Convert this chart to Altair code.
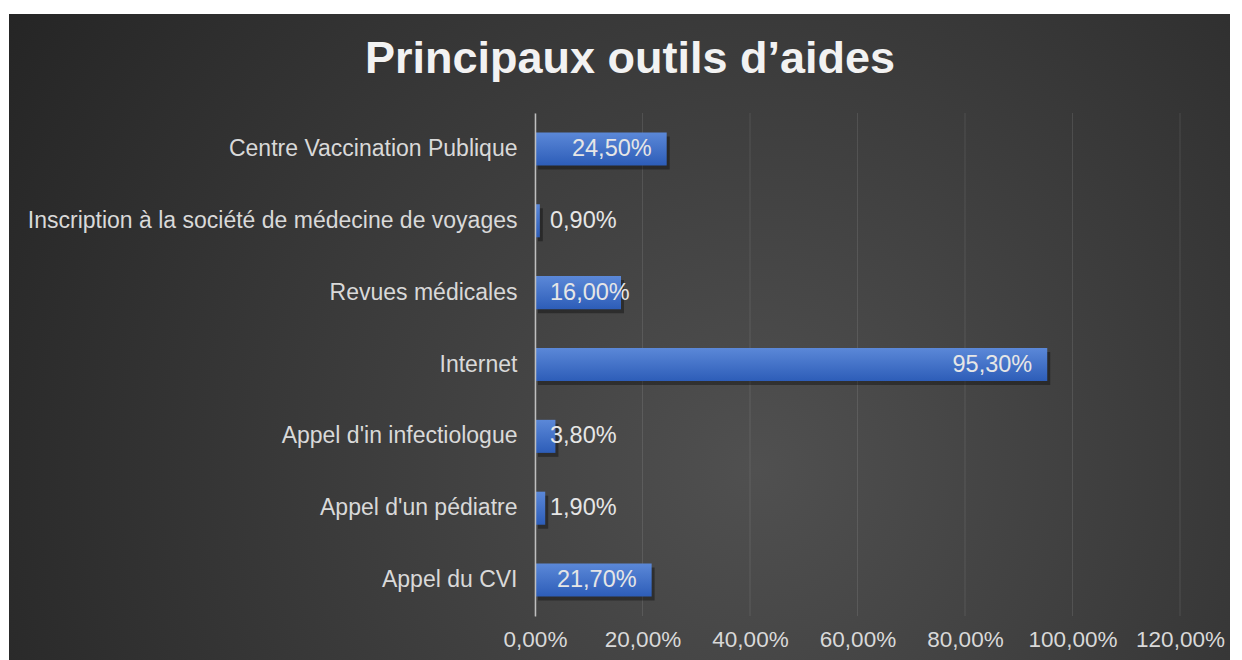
import altair as alt
import pandas as pd

# ---- data ----
categories = [
    "Centre Vaccination Publique",
    "Inscription à la société de médecine de voyages",
    "Revues médicales",
    "Internet",
    "Appel d'in infectiologue",
    "Appel d'un pédiatre",
    "Appel du CVI",
]
values = [24.5, 0.9, 16.0, 95.3, 3.8, 1.9, 21.7]
ticks = [0, 20, 40, 60, 80, 100, 120]
title_text = "Principaux  outils  d’aides"

df = pd.DataFrame({"cat": categories, "v": values})
df_ticks = pd.DataFrame({"t": ticks})
df_one = pd.DataFrame({"a": [0]})

FONT = "Liberation Sans"
W, H = 645, 503

xscale = alt.Scale(domain=[0, 120], nice=False, zero=True)
yscale = alt.Scale(paddingInner=0.54, paddingOuter=0.27)

xaxis = alt.Axis(
    values=ticks, title=None, grid=False, domain=False, ticks=False,
    labelExpr="replace(format(datum.value, '.2f'), '.', ',') + '%'",
    labelFont=FONT, labelFontSize=22.5, labelColor="#d9d9d9",
    labelPadding=12, labelOverlap=False, labelFlush=False, zindex=1,
)
yaxis = alt.Axis(
    title=None, ticks=False, domain=True, domainColor="#bfbfbf",
    domainWidth=1.5, labelFont=FONT, labelFontSize=23,
    labelColor="#d9d9d9", labelPadding=18, labelLimit=600, zindex=1,
)

bg = alt.Chart(df_one).mark_rect(
    fill=alt.RadialGradient(
        gradient="radial",
        x1=0.6, y1=0.6, r1=0,
        x2=0.6, y2=0.6, r2=0.72,
        stops=[
            alt.GradientStop(offset=0, color="#505050"),
            alt.GradientStop(offset=1, color="#242424"),
        ],
    )
).encode(
    x=alt.value(-526), x2=alt.value(720),
    y=alt.value(-99), y2=alt.value(560),
)

grid = alt.Chart(df_ticks).mark_rule(
    color="#ffffff", opacity=0.1, strokeWidth=1
).encode(
    x=alt.X("t:Q", scale=xscale, axis=xaxis),
)

shadow = alt.Chart(df).mark_bar(
    color="#000000", opacity=0.35, xOffset=3, yOffset=4
).encode(
    x=alt.X("v:Q", scale=xscale, axis=xaxis),
    y=alt.Y("cat:N", sort=categories, scale=yscale, axis=yaxis),
)

bars = alt.Chart(df).mark_bar(
    fill=alt.LinearGradient(
        gradient="linear",
        x1=0, y1=0, x2=0, y2=1,
        stops=[
            alt.GradientStop(offset=0, color="#5b88d8"),
            alt.GradientStop(offset=1, color="#2d5db8"),
        ],
    )
).encode(
    x=alt.X("v:Q", scale=xscale, axis=xaxis),
    y=alt.Y("cat:N", sort=categories, scale=yscale, axis=yaxis),
)

lab = "replace(format(datum.v, '.2f'), '.', ',') + '%'"

labels_end = alt.Chart(df).transform_filter("datum.v >= 20").transform_calculate(
    label=lab
).mark_text(
    align="right", baseline="middle", dx=-15, font=FONT, fontSize=23.5, color="#e6e6e6"
).encode(
    x=alt.X("v:Q", scale=xscale, axis=xaxis),
    y=alt.Y("cat:N", sort=categories, scale=yscale, axis=yaxis),
    text="label:N",
)

labels_base = alt.Chart(df).transform_filter("datum.v < 20").transform_calculate(
    label=lab
).mark_text(
    align="left", baseline="middle", dx=15, font=FONT, fontSize=23.5, color="#e6e6e6"
).encode(
    x=alt.datum(0, scale=xscale, axis=xaxis),
    y=alt.Y("cat:N", sort=categories, scale=yscale, axis=yaxis),
    text="label:N",
)

title = alt.Chart(df_one).mark_text(
    text=title_text, font=FONT, fontSize=45, fontWeight="bold",
    color="#f2f2f2", align="center", baseline="alphabetic",
).encode(x=alt.value(95), y=alt.value(-40))

chart = alt.layer(
    bg, grid, shadow, bars, labels_end, labels_base, title
).properties(
    width=W, height=H,
    autosize="none",
    padding={"left": 527, "top": 105, "right": 50, "bottom": 44},
    background="#ffffff",
).configure_view(stroke=None)

chart.save("out.html", embed_options={"renderer": "svg", "actions": False})
